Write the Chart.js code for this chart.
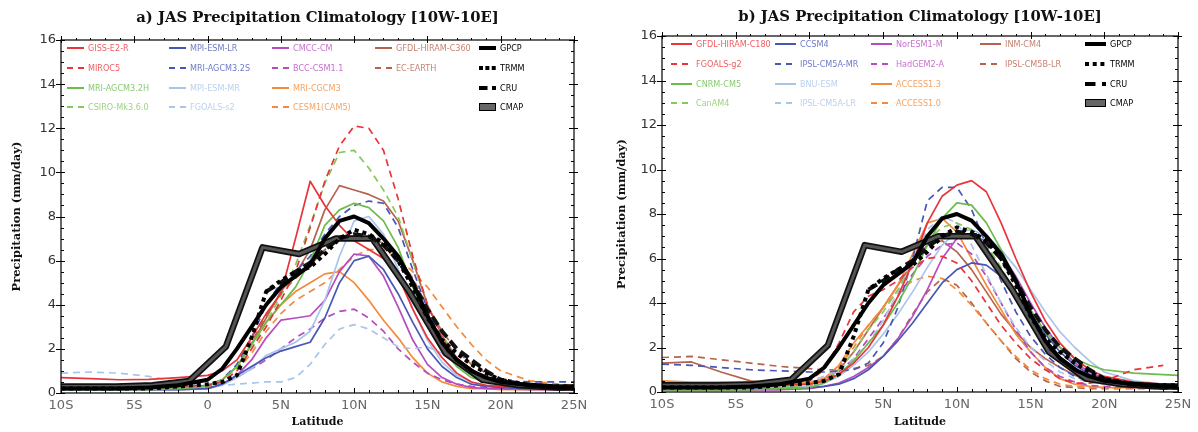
<!DOCTYPE html>
<html><head><meta charset="utf-8">
<script src="https://cdn.jsdelivr.net/npm/chart.js@4.4.1/dist/chart.umd.min.js"></script>
<style>
html,body{margin:0;padding:0;background:#fff;}
#wrap{position:relative;width:1198px;height:432px;overflow:hidden;}
canvas{position:absolute;top:0;}
#chartA{left:0;}
#chartB{left:600px;}
</style></head><body>
<div id="wrap">
<canvas id="chartA" width="600" height="432"></canvas>
<canvas id="chartB" width="598" height="432"></canvas>
</div>
<script>
// ---------- axes ----------
const LAT = [-10,-8,-6,-4,-2,0,1,2,3,4,5,6,7,8,9,10,11,12,13,14,15,16,17,18,19,20,22,24,25];
const OBS_LAT = [-10,-8.75,-6.25,-3.75,-1.25,1.25,3.75,6.25,8.75,11.25,13.75,16.25,18.75,21.25,23.75,25];
const X_TICKS = [-10,-5,0,5,10,15,20,25];
const X_TICK_LABELS = ['10S','5S','0','5N','10N','15N','20N','25N'];
const Y_TICKS = [0,2,4,6,8,10,12,14,16];

// ---------- observations (same in both panels) ----------
const GPCP = [0.2,0.2,0.2,0.25,0.35,0.6,1.1,2.0,3.0,4.0,4.8,5.3,5.8,7.0,7.8,8.0,7.7,7.0,6.2,5.0,3.5,2.3,1.5,1.0,0.7,0.5,0.35,0.25,0.25];
const TRMM = [0.2,0.2,0.2,0.2,0.3,0.4,0.5,0.8,2.5,4.6,5.1,5.5,5.7,6.3,7.0,7.4,7.2,6.8,6.0,4.8,3.4,2.4,1.8,1.3,0.9,0.6,0.35,0.3,0.3];
const CRU  = [null,null,null,null,null,null,null,null,null,4.6,5.0,5.5,5.9,6.5,7.0,7.2,7.1,6.7,6.0,5.0,3.8,2.8,2.0,1.5,1.0,0.6,0.3,0.2,0.2];
const CMAP = [0.3,0.3,0.3,0.35,0.55,2.1,6.6,6.3,7.0,7.0,4.6,1.8,0.6,0.35,0.25,0.25];
const OBS_NAMES = ['GPCP','TRMM','CRU','CMAP'];

// ---------- panel a models ----------
const A_NAMES = ['GISS-E2-R','MIROC5','MRI-AGCM3.2H','CSIRO-Mk3.6.0','MPI-ESM-LR','MRI-AGCM3.2S','MPI-ESM-MR','FGOALS-s2','CMCC-CM','BCC-CSM1.1','MRI-CGCM3','CESM1(CAM5)','GFDL-HIRAM-C360','EC-EARTH'];
const A_GISS_E2_R   = [0.7,0.65,0.6,0.62,0.7,0.8,1.0,1.5,2.5,3.6,4.5,7.0,9.6,8.5,7.6,6.9,6.5,6.1,5.3,3.8,2.5,1.6,0.9,0.5,0.35,0.3,0.25,0.2,0.2];
const A_MIROC5      = [0.35,0.35,0.3,0.3,0.3,0.35,0.5,1.0,2.0,3.0,4.2,5.5,7.5,9.6,11.2,12.1,12.0,11.0,8.8,6.2,4.0,2.5,1.5,0.9,0.6,0.45,0.35,0.3,0.3];
const A_MRI_AGCM32H = [0.15,0.15,0.15,0.15,0.2,0.3,0.6,1.2,2.2,3.2,4.0,4.8,6.0,7.6,8.3,8.6,8.4,7.8,6.6,4.8,3.2,2.0,1.2,0.7,0.5,0.4,0.3,0.3,0.3];
const A_CSIRO       = [0.2,0.2,0.2,0.2,0.25,0.35,0.6,1.1,2.0,3.2,4.4,5.8,7.6,9.5,10.9,11.0,10.2,9.2,8.0,6.0,4.0,2.6,1.6,1.0,0.7,0.5,0.35,0.3,0.3];
const A_MPI_ESM_LR  = [0.15,0.15,0.15,0.15,0.15,0.2,0.4,0.8,1.2,1.6,1.9,2.1,2.3,3.4,5.0,6.0,6.2,5.6,4.5,3.2,2.0,1.2,0.7,0.4,0.3,0.25,0.2,0.2,0.2];
const A_MRI_AGCM32S = [0.3,0.25,0.2,0.2,0.25,0.35,0.6,1.3,2.5,4.0,5.0,5.5,6.2,7.2,8.0,8.5,8.7,8.6,7.5,5.6,3.8,2.4,1.5,1.0,0.7,0.55,0.5,0.5,0.5];
const A_MPI_ESM_MR  = [0.15,0.15,0.15,0.15,0.15,0.2,0.35,0.7,1.1,1.7,2.0,2.3,2.8,4.2,6.2,7.8,8.0,7.2,5.6,3.8,2.4,1.4,0.8,0.5,0.35,0.3,0.25,0.2,0.2];
const A_FGOALS_S2   = [0.9,0.95,0.9,0.75,0.5,0.35,0.35,0.4,0.45,0.5,0.5,0.7,1.3,2.2,2.9,3.1,2.9,2.5,2.1,2.0,2.1,1.8,1.4,1.0,0.8,0.6,0.4,0.3,0.3];
const A_CMCC_CM     = [0.15,0.15,0.15,0.15,0.15,0.2,0.4,0.8,1.5,2.5,3.3,3.4,3.5,4.2,5.5,6.3,6.2,5.3,3.9,2.4,1.3,0.7,0.4,0.25,0.2,0.2,0.15,0.15,0.15];
const A_BCC_CSM11   = [0.2,0.2,0.2,0.2,0.2,0.25,0.4,0.7,1.1,1.5,2.0,2.5,2.9,3.4,3.7,3.8,3.4,2.8,2.0,1.4,0.9,0.6,0.4,0.3,0.25,0.2,0.2,0.2,0.2];
const A_MRI_CGCM3   = [0.15,0.15,0.15,0.15,0.2,0.3,0.6,1.2,2.2,3.2,4.0,4.6,5.0,5.4,5.5,5.0,4.2,3.3,2.5,1.6,0.9,0.5,0.3,0.2,0.2,0.15,0.15,0.15,0.15];
const A_CESM1_CAM5  = [0.2,0.2,0.2,0.2,0.2,0.3,0.5,1.0,1.8,2.8,3.6,4.2,4.6,5.0,5.6,6.2,6.5,6.5,6.1,5.5,4.8,3.9,3.0,2.2,1.5,1.0,0.55,0.4,0.35];
const A_GFDL_C360   = [0.2,0.2,0.2,0.2,0.25,0.35,0.6,1.2,2.2,3.4,4.6,5.4,6.5,8.3,9.4,9.2,9.0,8.7,7.8,6.0,4.0,2.6,1.6,1.0,0.6,0.45,0.3,0.25,0.25];
const A_EC_EARTH    = [0.3,0.25,0.2,0.2,0.25,0.35,0.6,1.2,2.3,3.5,4.5,5.2,5.8,6.5,7.0,7.1,7.0,6.8,6.2,5.2,3.9,2.8,1.9,1.3,0.9,0.6,0.4,0.3,0.3];

// ---------- panel b models ----------
const B_NAMES = ['GFDL-HIRAM-C180','FGOALS-g2','CNRM-CM5','CanAM4','CCSM4','IPSL-CM5A-MR','BNU-ESM','IPSL-CM5A-LR','NorESM1-M','HadGEM2-A','ACCESS1.3','ACCESS1.0','INM-CM4','IPSL-CM5B-LR'];
const B_GFDL_C180   = [0.3,0.3,0.3,0.3,0.3,0.35,0.5,0.8,1.3,2.0,3.0,4.3,5.8,7.6,8.8,9.3,9.5,9.0,7.6,6.0,4.5,3.2,2.2,1.5,1.0,0.7,0.45,0.35,0.3];
const B_FGOALS_G2   = [0.35,0.35,0.35,0.35,0.35,0.5,1.0,2.2,3.6,4.3,4.6,5.0,5.6,6.0,6.1,5.8,5.0,4.0,3.0,2.2,1.5,1.0,0.6,0.4,0.4,0.5,1.0,1.2,null];
const B_CNRM_CM5    = [0.1,0.1,0.1,0.1,0.15,0.2,0.4,0.8,1.4,2.2,3.0,4.0,5.2,6.6,7.8,8.5,8.4,7.6,6.4,5.0,3.7,2.7,2.0,1.5,1.2,1.0,0.85,0.78,0.75];
const B_CANAM4      = [0.2,0.2,0.2,0.2,0.2,0.3,0.5,1.0,1.8,2.8,3.6,4.6,5.8,6.8,7.4,7.6,7.3,6.6,5.6,4.4,3.2,2.2,1.4,0.9,0.6,0.45,0.3,0.25,0.25];
const B_CCSM4       = [0.15,0.15,0.15,0.15,0.15,0.2,0.25,0.35,0.6,1.0,1.6,2.3,3.1,4.0,4.9,5.5,5.8,5.7,5.2,4.4,3.5,2.6,1.8,1.2,0.8,0.55,0.35,0.3,0.3];
const B_IPSL_CM5A_MR= [1.25,1.2,1.1,1.0,0.95,0.9,0.9,0.95,1.0,1.3,2.2,3.8,6.0,8.6,9.2,9.2,8.2,6.6,5.0,3.6,2.5,1.7,1.1,0.7,0.5,0.4,0.3,0.3,0.3];
const B_BNU_ESM     = [0.2,0.2,0.2,0.2,0.2,0.25,0.4,0.7,1.2,1.8,2.6,3.5,4.5,5.6,6.6,7.2,7.3,7.0,6.4,5.6,4.6,3.6,2.7,2.0,1.4,0.9,0.5,0.35,0.3];
const B_IPSL_CM5A_LR= [0.35,0.35,0.35,0.35,0.4,0.5,0.7,1.0,1.5,2.2,3.2,4.5,6.0,7.3,7.9,7.6,6.6,5.3,4.0,2.9,2.0,1.4,0.9,0.6,0.45,0.35,0.3,0.3,0.3];
const B_NORESM1_M   = [0.1,0.1,0.1,0.1,0.1,0.15,0.25,0.4,0.7,1.1,1.6,2.4,3.4,4.6,6.0,6.9,7.0,6.8,6.2,5.2,4.0,2.9,2.0,1.3,0.9,0.6,0.4,0.35,0.3];
const B_HADGEM2_A   = [0.2,0.2,0.2,0.2,0.2,0.3,0.5,0.9,1.5,2.4,3.3,4.3,5.3,6.1,6.6,6.7,6.2,5.2,4.0,2.8,1.8,1.1,0.7,0.45,0.3,0.25,0.2,0.2,0.2];
const B_ACCESS13    = [0.5,0.45,0.45,0.4,0.35,0.4,0.6,1.2,2.2,3.0,3.8,4.8,6.2,7.6,7.8,7.2,6.0,4.8,3.7,2.6,1.8,1.1,0.6,0.35,0.25,0.2,0.2,0.2,0.2];
const B_ACCESS10    = [0.3,0.3,0.3,0.3,0.3,0.4,0.6,1.1,2.0,3.0,3.8,4.5,5.0,5.2,5.1,4.6,3.9,3.1,2.3,1.6,1.0,0.6,0.35,0.25,0.2,0.2,0.2,0.2,0.2];
const B_INM_CM4     = [1.3,1.35,0.9,0.5,0.35,0.4,0.6,1.0,1.8,2.8,3.8,4.8,5.8,6.6,6.8,6.3,5.5,4.5,3.5,2.7,2.0,1.5,1.1,0.75,0.5,0.35,0.25,0.2,0.2];
const B_IPSL_CM5B_LR= [1.55,1.6,1.45,1.3,1.15,1.05,1.0,1.0,1.05,1.2,1.6,2.4,3.5,4.5,5.1,4.8,4.0,3.1,2.3,1.5,0.9,0.5,0.25,0.2,0.15,0.15,0.15,0.15,0.15];

const A_SERIES = [A_GISS_E2_R,A_MIROC5,A_MRI_AGCM32H,A_CSIRO,A_MPI_ESM_LR,A_MRI_AGCM32S,A_MPI_ESM_MR,A_FGOALS_S2,A_CMCC_CM,A_BCC_CSM11,A_MRI_CGCM3,A_CESM1_CAM5,A_GFDL_C360,A_EC_EARTH];
const B_SERIES = [B_GFDL_C180,B_FGOALS_G2,B_CNRM_CM5,B_CANAM4,B_CCSM4,B_IPSL_CM5A_MR,B_BNU_ESM,B_IPSL_CM5A_LR,B_NORESM1_M,B_HADGEM2_A,B_ACCESS13,B_ACCESS10,B_INM_CM4,B_IPSL_CM5B_LR];

// ---------- styles ----------
const RED='#e9343a', GREEN='#6abd4b', BLUE='#4857b6', LBLUE='#a9c6ea', MAG='#b64cbf', ORANGE='#f28b3b', BROWN='#b5634d';
const SLOTS = [
  {c:0,r:0,color:RED,dash:false},{c:0,r:1,color:RED,dash:true},{c:0,r:2,color:GREEN,dash:false},{c:0,r:3,color:'#84c95a',dash:true},
  {c:1,r:0,color:BLUE,dash:false},{c:1,r:1,color:BLUE,dash:true},{c:1,r:2,color:LBLUE,dash:false},{c:1,r:3,color:LBLUE,dash:true},
  {c:2,r:0,color:MAG,dash:false},{c:2,r:1,color:MAG,dash:true},{c:2,r:2,color:ORANGE,dash:false},{c:2,r:3,color:ORANGE,dash:true},
  {c:3,r:0,color:BROWN,dash:false},{c:3,r:1,color:BROWN,dash:true}
];

function pts(lat, vals){ return lat.map((x,i)=>({x:x, y:vals[i]})).filter(p=>p.y!==null); }

function buildDatasets(names, series){
  const ds = [];
  ds.push({label:'GPCP', data:pts(LAT,GPCP), borderColor:'#000', borderWidth:4});
  ds.push({label:'TRMM', data:pts(LAT,TRMM), borderColor:'#000', borderWidth:4, borderDash:[4,4]});
  ds.push({label:'CRU', data:pts(LAT,CRU), borderColor:'#111', borderWidth:4, borderDash:[10,5]});
  ds.push({label:'CMAP', data:pts(OBS_LAT,CMAP), borderColor:'#555', borderWidth:3});
  ds.push({label:'CMAP_edge', data:pts(OBS_LAT,CMAP), borderColor:'#111', borderWidth:6.5});
  names.forEach((n,i)=>{
    ds.push({label:n, data:pts(LAT,series[i]), borderColor:SLOTS[i].color, borderWidth:1.7, borderDash:SLOTS[i].dash?[7,5]:[]});
  });
  ds.forEach(d=>{ d.pointRadius=0; d.fill=false; d.tension=0; d.borderJoinStyle='round'; });
  return ds;
}

const framePlugin = {
  id:'frame',
  afterDatasetsDraw(chart, args, opts){
    const ctx = chart.ctx, ca = chart.chartArea, xs = chart.scales.x, ys = chart.scales.y;
    ctx.save();
    ctx.strokeStyle='#000'; ctx.lineWidth=1.2; ctx.setLineDash([]);
    ctx.strokeRect(ca.left, ca.top, ca.right-ca.left, ca.bottom-ca.top);
    ctx.lineWidth=1;
    const seg=(a,b,c,d)=>{ctx.beginPath();ctx.moveTo(a,b);ctx.lineTo(c,d);ctx.stroke();};
    for(let v=-10; v<=25; v++){
      const px = Math.round(xs.getPixelForValue(v))+0.5;
      const major = (v%5===0);
      seg(px, ca.bottom, px, ca.bottom-(major?5:3));
      seg(px, ca.top, px, ca.top-(major?4:2));
      if(major){ seg(px, ca.top, px, ca.top+3); }
    }
    for(let v=0; v<=16; v+=0.5){
      const py = Math.round(ys.getPixelForValue(v))+0.5;
      const major = (v%2===0);
      seg(ca.left-(major?5:0), py, ca.left+(major?4:3), py);
      seg(ca.right-(major?5:3), py, ca.right+(major?4:0), py);
    }
    // title
    ctx.fillStyle='#111';
    ctx.font='bold 14.8px "DejaVu Serif", serif';
    ctx.textAlign='center'; ctx.textBaseline='middle';
    ctx.fillText(opts.title, (ca.left+ca.right)/2, opts.titleY);
    // legend
    const ds = chart.data.datasets;
    ctx.font='9px "Liberation Sans Narrow", "DejaVu Sans Condensed", sans-serif';
    ctx.textAlign='left';
    const rowY = r => ca.top + opts.rows[r];
    const colX = c => ca.left + opts.cols[c];
    const L = opts.sampleLen;
    for(let i=5;i<ds.length;i++){
      const s = SLOTS[i-5];
      const x = colX(s.c), y = rowY(s.r);
      ctx.strokeStyle = ds[i].borderColor; ctx.lineWidth=2;
      ctx.setLineDash(s.dash?[6,5]:[]);
      seg(x, y, x+L, y);
      ctx.setLineDash([]);
      ctx.globalAlpha=0.8;
      ctx.fillStyle = ds[i].borderColor;
      ctx.fillText(ds[i].label, x+L+4, y+0.5);
      ctx.globalAlpha=1;
    }
    // observations legend
    const ox = colX(4);
    ctx.fillStyle='#000';
    let y = rowY(0); ctx.fillRect(ox, y-2, L, 4);
    y = rowY(1); for(let k=0;k<3;k++) ctx.fillRect(ox+k*(L/3+0.7), y-2, 4, 4);
    y = rowY(2); ctx.fillRect(ox, y-2, L*0.5, 4); ctx.fillRect(ox+L-4, y-2, 4, 4);
    y = rowY(3); ctx.fillStyle='#666'; ctx.fillRect(ox, y-3.5, L, 7); ctx.strokeStyle='#000'; ctx.lineWidth=1; ctx.strokeRect(ox+0.5, y-3.5, L-1, 7);
    ctx.fillStyle='#000';
    for(let r=0;r<4;r++){ ctx.fillText(OBS_NAMES[r], ox+L+4, rowY(r)+0.5); }
    ctx.restore();
  }
};

function makeChart(id, names, series, cfg){
  return new Chart(document.getElementById(id), {
    type:'line',
    data:{ datasets: buildDatasets(names, series) },
    options:{
      responsive:false, animation:false, devicePixelRatio:1,
      layout:{ padding:{ left:0, right:cfg.padRight, top:cfg.top, bottom:0 } },
      plugins:{
        legend:{display:false}, tooltip:{enabled:false}, title:{display:false},
        frame:{ title:cfg.title, titleY:cfg.titleY, rows:[8,28,48,67], cols:cfg.cols, sampleLen:cfg.sampleLen }
      },
      scales:{
        x:{
          type:'linear', min:-10, max:25,
          afterBuildTicks: s => { s.ticks = X_TICKS.map(v=>({value:v})); },
          afterFit: s => { s.height = cfg.xHeight; },
          grid:{ display:false, drawTicks:false },
          border:{ display:false },
          ticks:{ autoSkip:false, maxRotation:0, padding:5, color:'#666',
                  font:{ family:'"DejaVu Sans", sans-serif', size:13 },
                  callback: v => X_TICK_LABELS[X_TICKS.indexOf(v)] },
          title:{ display:true, text:'Latitude', color:'#111', padding:{top:0,bottom:3},
                  font:{ family:'"DejaVu Serif", serif', size:11, weight:'bold' } }
        },
        y:{
          type:'linear', min:0, max:16,
          afterBuildTicks: s => { s.ticks = Y_TICKS.map(v=>({value:v})); },
          afterFit: s => { s.width = cfg.yWidth; },
          grid:{ display:false, drawTicks:false },
          border:{ display:false },
          ticks:{ padding:5, color:'#333', font:{ family:'"DejaVu Sans", sans-serif', size:13 } },
          title:{ display:true, text:'Precipitation (mm/day)', color:'#111', padding:{top:cfg.yTitlePad,bottom:0},
                  font:{ family:'"DejaVu Serif", serif', size:11.5, weight:'bold' } }
        }
      }
    },
    plugins:[framePlugin]
  });
}

makeChart('chartA', A_NAMES, A_SERIES, {
  title:'a) JAS Precipitation Climatology [10W-10E]', titleY:18,
  top:40, padRight:26, xHeight:39, yWidth:61, yTitlePad:10,
  cols:[6,108,211,314,418], sampleLen:17
});
makeChart('chartB', B_NAMES, B_SERIES, {
  title:'b) JAS Precipitation Climatology [10W-10E]', titleY:17,
  top:36, padRight:20, xHeight:40, yWidth:62, yTitlePad:15,
  cols:[9,113,209,318,423], sampleLen:21
});
</script>
</body></html>
